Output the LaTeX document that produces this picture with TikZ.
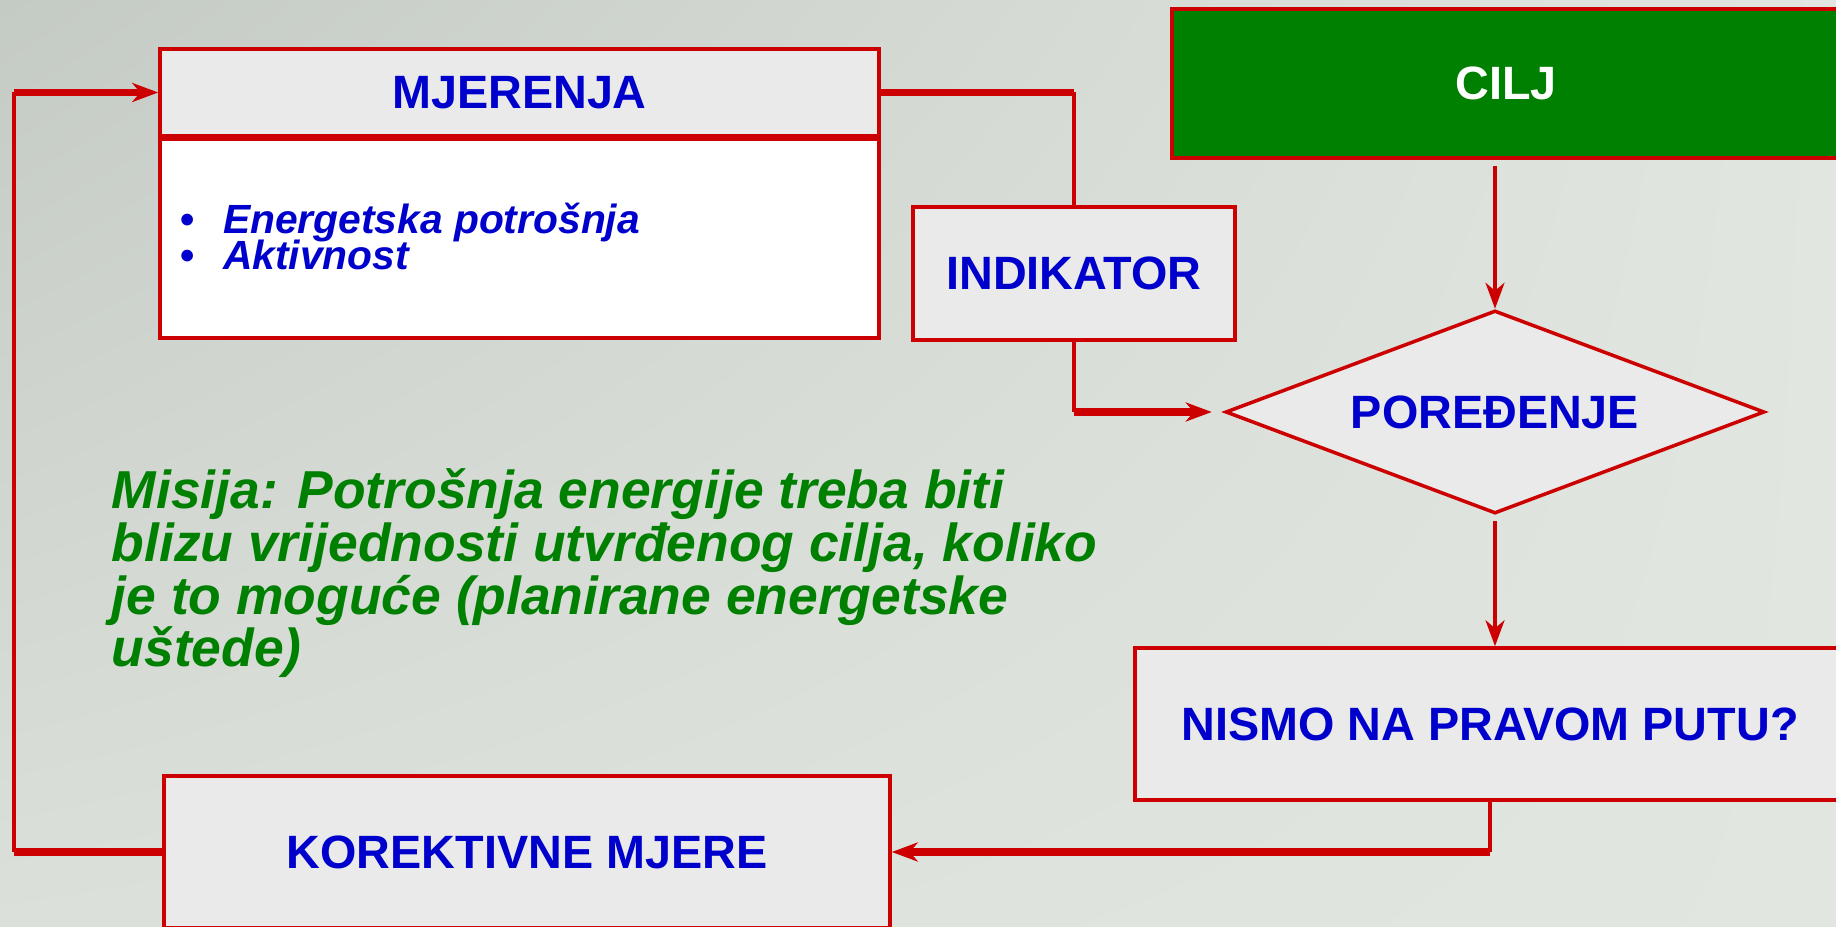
\documentclass[tikz,border=0pt]{standalone}
\usepackage{fontspec}
\setmainfont{Liberation Sans}
\usetikzlibrary{shapes.geometric,arrows.meta,shadings}
\definecolor{crvena}{RGB}{204,0,0}
\definecolor{plava}{RGB}{0,0,204}
\definecolor{zelena}{RGB}{0,128,0}
\definecolor{siva}{RGB}{234,234,234}
\definecolor{pozUL}{RGB}{196,202,196}
\definecolor{pozUR}{RGB}{226,230,224}
\definecolor{pozLL}{RGB}{220,224,218}
\definecolor{pozLR}{RGB}{226,230,224}
\newcommand{\tijesno}{\lineskiplimit=-5pt\relax}

\begin{document}
\begin{tikzpicture}[
    okvir/.style={draw=crvena, line width=1pt, fill=siva, text=plava,
        font=\fontsize{13.3}{15}\selectfont\bfseries},
    tanka/.style={crvena, line width=1pt},
    debela/.style={crvena, line width=2pt},
    vrh/.style={-{Stealth[length=2.6mm, width=1.9mm, inset=0.8mm]}}
]
    % Pozadina
    \useasboundingbox (0,0) rectangle (18.36,9.26);
    \shade[upper left=pozUL, upper right=pozUR, lower left=pozLL, lower right=pozLR] (0,0) rectangle (18.36,9.26);
    \clip (0,0) rectangle (18.36,9.26);

    % Okviri
    \node[okvir, minimum width=7.19cm, minimum height=0.87cm] (box_mjer) at (5.195,8.335) {MJERENJA};
    \node[okvir, fill=white, minimum width=7.19cm, minimum height=1.99cm] (box_lista) at (5.195,6.875) {};
    \node[anchor=west, align=left, inner sep=0pt, text=plava, font=\tijesno\fontsize{11.6}{10}\selectfont\bfseries] (lista) at (1.80,6.895)
        {\textbullet\hspace{8pt}\textit{Energetska potrošnja}\\ \textbullet\hspace{8pt}\textit{Aktivnost}};
    \node[okvir, minimum width=3.22cm, minimum height=1.33cm] (box_ind) at (10.74,6.525) {INDIKATOR};
    \node[okvir, fill=zelena, text=white, minimum width=6.68cm, minimum height=1.49cm] (box_cilj) at (15.06,8.425) {CILJ};
    \node[okvir, diamond, inner sep=0pt, aspect=2.65, minimum width=5.39cm, minimum height=2.03cm] (dia_por) at (14.95,5.14) {POREĐENJE};
    \node[okvir, minimum width=7.1cm, minimum height=1.52cm] (box_nismo) at (14.90,2.02) {NISMO NA PRAVOM PUTU?};
    \node[okvir, minimum width=7.26cm, minimum height=1.52cm] (box_kor) at (5.27,0.74) {KOREKTIVNE MJERE};

    % Misija
    \node[anchor=north west, align=left, inner sep=0pt, text=zelena, font=\tijesno\fontsize{15.2}{15}\selectfont\bfseries\itshape] (misija) at (1.11,4.58)
        {Misija: Potrošnja energije treba biti\\ blizu vrijednosti utvrđenog cilja, koliko\\ je to moguće (planirane energetske\\ uštede)};

    % Veze
    \coordinate (lijevo) at (0.14,0);
    \draw[debela] (box_mjer.east) -- (box_mjer.east -| box_ind.north);
    \draw[tanka] (box_mjer.east -| box_ind.north) -- (box_ind.north);
    \draw[tanka] (box_ind.south) -- (box_ind.south |- dia_por.west);
    \draw[debela, vrh, shorten >=1.2mm] (box_ind.south |- dia_por.west) -- (dia_por.west);
    \draw[tanka, vrh, shorten <=0.6mm] (dia_por.north |- box_cilj.south) -- (dia_por.north);
    \draw[tanka, vrh, shorten <=0.6mm] (dia_por.south) -- (dia_por.south |- box_nismo.north);
    \draw[tanka] (box_nismo.south) -- (box_nismo.south |- box_kor.east);
    \draw[debela, vrh] (box_nismo.south |- box_kor.east) -- (box_kor.east);
    \draw[debela] (box_kor.west) -- (box_kor.west -| lijevo);
    \draw[tanka] (box_kor.west -| lijevo) -- (box_mjer.west -| lijevo);
    \draw[debela, vrh] (box_mjer.west -| lijevo) -- (box_mjer.west);
\end{tikzpicture}
\end{document}
